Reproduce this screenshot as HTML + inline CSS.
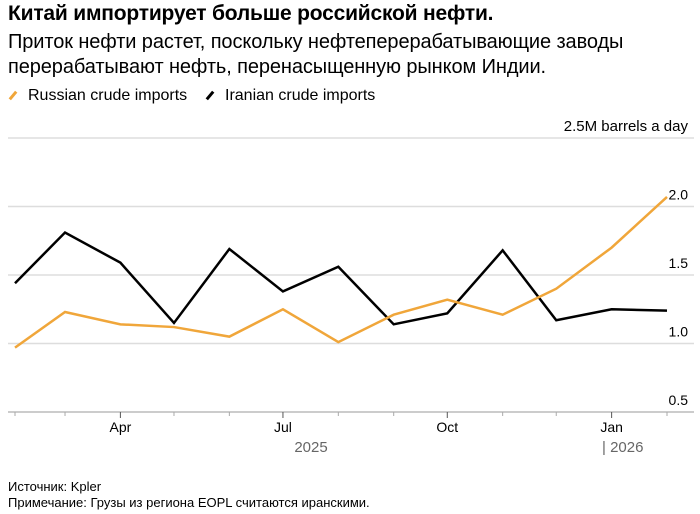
<!DOCTYPE html>
<html><head><meta charset="utf-8"><style>
body{margin:0;width:700px;height:514px;background:#fff;font-family:"Liberation Sans",sans-serif;color:#000;position:relative;overflow:hidden}
.t{position:absolute;white-space:nowrap}
</style></head><body>
<div class="t" style="left:8px;top:2px;font-size:21px;font-weight:bold;letter-spacing:-0.2px">Китай импортирует больше российской нефти.</div>
<div class="t" style="left:8px;top:30px;font-size:20px;line-height:25px;letter-spacing:-0.1px">Приток нефти растет, поскольку нефтеперерабатывающие заводы<br>перерабатывают нефть, перенасыщенную рынком Индии.</div>
<div class="t" style="left:8px;top:87px;font-size:16px"><span style="display:inline-block;width:10px;height:3px;background:#f0a63a;transform:rotate(-50deg);margin-right:10px;vertical-align:middle"></span>Russian crude imports</div>
<div class="t" style="left:205px;top:87px;font-size:16px"><span style="display:inline-block;width:10px;height:3px;background:#000;transform:rotate(-50deg);margin-right:10px;vertical-align:middle"></span>Iranian crude imports</div>
<svg id="chart" width="700" height="514" style="position:absolute;left:0;top:0"></svg>
<div class="t" style="left:8px;top:479px;font-size:13px">Источник: Kpler</div>
<div class="t" style="left:8px;top:495px;font-size:13px">Примечание: Грузы из региона EOPL считаются иранскими.</div>
<script>
const months=["2025-02-01","2025-03-01","2025-04-01","2025-05-01","2025-06-01","2025-07-01","2025-08-01","2025-09-01","2025-10-01","2025-11-01","2025-12-01","2026-01-01","2026-02-01"];
const russian=[0.97,1.23,1.14,1.12,1.05,1.25,1.01,1.21,1.32,1.21,1.40,1.70,2.07];
const iranian=[1.44,1.81,1.59,1.15,1.69,1.38,1.56,1.14,1.22,1.68,1.17,1.25,1.24];
const yTicks=[0.5,1.0,1.5,2.0,2.5];
const yLabels=["0.5","1.0","1.5","2.0","2.5M barrels a day"];
const xLabelIdx=[2,5,8,11];
const xLabels=["Apr","Jul","Oct","Jan"];
const NS="http://www.w3.org/2000/svg";
const svg=document.getElementById('chart');
const t0=Date.parse(months[0]), t1=Date.parse(months[months.length-1]);
const x=i=>15+(Date.parse(months[i])-t0)/(t1-t0)*(667-15);
const y=v=>412-(v-0.5)*137;
function mk(t,a){const e=document.createElementNS(NS,t);for(const k in a)e.setAttribute(k,a[k]);svg.appendChild(e);return e;}
yTicks.forEach((v,i)=>{
 const g=mk('line',{x1:8,x2:694,y1:y(v),y2:y(v),stroke:i==0?'#bbb':'#ddd','stroke-width':1.5});
 
 
 const t=mk('text',{x:688,y:y(v)-7,'text-anchor':'end','font-size':i==4?15:14,'font-family':'Liberation Sans'});
 t.textContent=yLabels[i];
 
 
});
months.forEach((m,i)=>{
 const major=xLabelIdx.includes(i);
 const tk=mk('line',{x1:x(i),x2:x(i),y1:412,y2:major?418:416,stroke:major?'#555':'#aaa','stroke-width':1});
 
 
});
xLabelIdx.forEach((idx,k)=>{
 const t=mk('text',{x:x(idx),y:432,'text-anchor':'middle','font-size':14,'font-family':'Liberation Sans'});
 t.textContent=xLabels[k];
 
 
});
const y1=mk('text',{x:311,y:452,'text-anchor':'middle','font-size':15,fill:'#666','font-family':'Liberation Sans'});
y1.textContent='2025';


const y2=mk('text',{x:602,y:452,'font-size':15,fill:'#666','font-family':'Liberation Sans'});
y2.textContent='| 2026';


function line(d,c,n){
 const p=mk('polyline',{points:d.map((v,i)=>x(i)+','+y(v)).join(' '),fill:'none',stroke:c,'stroke-width':2.5,'stroke-linejoin':'miter'});
 
 
}
line(iranian,'#000','iranian-line');
line(russian,'#f0a63a','russian-line');
</script>
</body></html>
